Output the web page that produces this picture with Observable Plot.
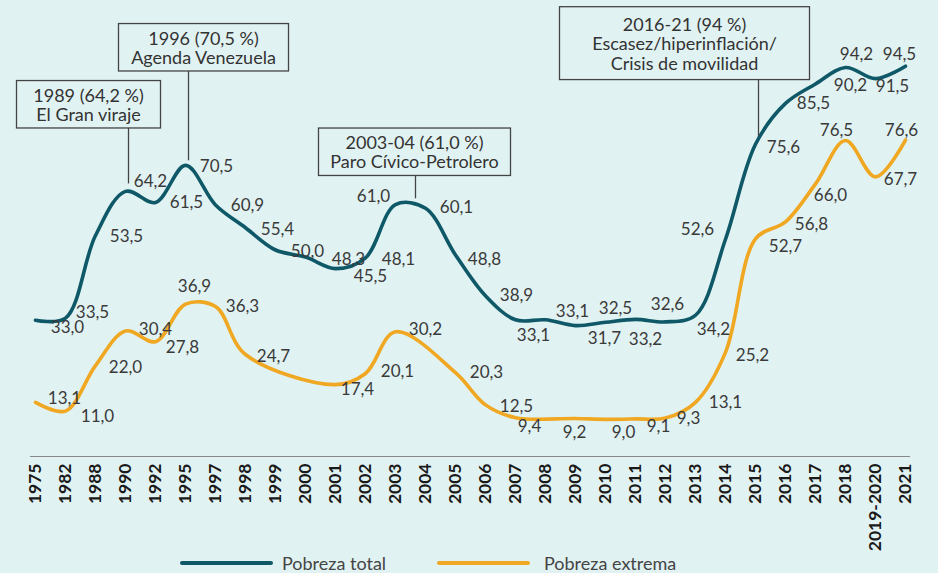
<!DOCTYPE html>
<html><head><meta charset="utf-8">
<script src="https://cdn.jsdelivr.net/npm/d3@7"></script>
<script src="https://cdn.jsdelivr.net/npm/@observablehq/plot@0.6"></script>
<style>
html,body{margin:0;padding:0;background:#e1f2f2;overflow:hidden;}
#chart svg{display:block;overflow:visible;}
#legend{position:relative;height:25px;font-family:Lato,"Open Sans",sans-serif;font-size:18px;color:#444;}
#legend .sw{position:absolute;top:13px;height:4px;width:93px;border-radius:2px;}
#legend .lb{position:absolute;top:3px;line-height:24px;}
</style></head>
<body>
<div id="chart"></div>
<div id="legend"></div>
<script>
// ---- data ----
const categories = ["1975","1982","1988","1990","1992","1995","1997","1998","1999","2000","2001","2002","2003","2004","2005","2006","2007","2008","2009","2010","2011","2012","2013","2014","2015","2016","2017","2018","2019-2020","2021"];
const pobrezaTotal = [33.0,33.5,53.5,64.2,61.5,70.5,60.9,55.4,50.0,48.3,45.5,48.1,61.0,60.1,48.8,38.9,33.1,33.1,31.7,32.5,33.2,32.6,34.2,52.6,75.6,85.5,90.2,94.2,91.5,94.5];
const pobrezaExtrema = [13.1,11.0,22.0,30.4,27.8,36.9,36.3,24.7,null,null,17.4,20.1,30.2,null,20.3,12.5,9.4,null,9.2,9.0,9.1,9.3,13.1,25.2,52.7,56.8,66.0,76.5,67.7,76.6];
const seriesNames = ["Pobreza total","Pobreza extrema"];

const annotationYears = ["1990","1995","2003","2015"];
const annotationTexts = ["1989 (64,2 %)\nEl Gran viraje","1996 (70,5 %)\nAgenda Venezuela","2003-04 (61,0 %)\nParo Cívico-Petrolero","2016-21 (94 %)\nEscasez/hiperinflación/\nCrisis de movilidad"];

// ---- label placement (style) ----
const totalDx = [32,27,31,25,31,31,32,32,32,43,35,33,-22,31,29,31,18,27,29,10,10,2,18,-28,28,28,35,11,17,-6];
const totalDy = [7,-6,1,-10,0,1,1,2,2,3,8,2,-8,-1,5,0,16,-8,13,-14,20,-17,14,-10,3,0,2,-13,8,-12];
const extDx = [29,32,30,30,27,9,27,28,0,0,22,32,30,0,31,31,14,0,-1,18,23,23,30,27,30,26,15,-9,25,-4];
const extDy = [-4,5,2,-1,6,-18,0,2,0,0,5,-2,-2,0,0,2,9,0,14,13,8,0,0,3,8,3,12,-10,3,-10];
const annBoxY = [85.1,98.9,73.6,99.9];   // box centre (value units)
const annLeadEnd = [66.0,71.6,62.4,77.4];
const annTextDx = [-37,18,19,-71];
const annLeadDx = [3,3,20,3];
const annBoxW = [144,170,192,250];

const TEAL = "#0e5868", ORANGE = "#f0a823", BG = "#e1f2f2";
const fmt = v => v.toFixed(1).replace(".", ",");

const totalData = categories.map((c,i)=>({year:c, value:pobrezaTotal[i], dx:totalDx[i], dy:totalDy[i]}));
const extData = categories.map((c,i)=>({year:c, value:pobrezaExtrema[i], dx:extDx[i], dy:extDy[i]})).filter(d=>d.value!=null);

const labelMarks = [...totalData, ...extData].map(d =>
  Plot.text([d], {x:"year", y:"value", text: d=>fmt(d.value), dx:d.dx, dy:d.dy, fontSize:17, fill:"#3a3a3a"}));

const annMarks = annotationYears.flatMap((yr,i)=>[
  Plot.ruleX([{year:yr}], {x:"year", y1:annBoxY[i], y2:annLeadEnd[i], dx:annLeadDx[i], stroke:"#444", strokeWidth:1.3}),
  Plot.text([{year:yr, t:annotationTexts[i]}], {x:"year", y:()=>annBoxY[i], text:"t", dx:annTextDx[i], fontSize:18, lineHeight:1.08, fill:"#333"})
]);

const plot = Plot.plot({
  width: 938, height: 548,
  marginLeft: 30, marginRight: 28, marginTop: 43, marginBottom: 92,
  style: {background: BG, fontFamily: "Lato, 'Open Sans', sans-serif", fontSize: "17px", overflow: "visible"},
  x: {type:"point", domain: categories, padding: 0, tickRotate: -90, tickSize: 0, tickPadding: 7, label: null},
  y: {domain: [0,100], axis: null},
  marks: [
    Plot.ruleY([0], {stroke:"#888", strokeWidth:1}),
    Plot.line(totalData, {x:"year", y:"value", stroke: TEAL, strokeWidth: 3.6, curve: "catmull-rom"}),
    Plot.line(extData, {x:"year", y:"value", stroke: ORANGE, strokeWidth: 3.6, curve: "catmull-rom"}),
    ...annMarks,
    ...labelMarks
  ]
});
document.getElementById("chart").appendChild(plot);

// bold tick labels
d3.select(plot).selectAll('g[aria-label^="x-axis"] text').attr("font-weight","bold").attr("fill","#1a1a1a").style("font-size","17.5px");

// boxes around annotations
const flatTexts = annotationTexts.map(t => t.replace(/\n/g, ""));
plot.querySelectorAll("text").forEach(textEl => {
  const idx = flatTexts.indexOf(textEl.textContent);
  if (idx < 0) return;
  const nLines = annotationTexts[idx].split("\n").length;
  const bb = textEl.getBBox();
  const w = annBoxW[idx];
  const h = bb.height + 6 * (nLines - 1);
  const cx = bb.x + bb.width/2, cy = bb.y + bb.height/2;
  const r = document.createElementNS("http://www.w3.org/2000/svg","rect");
  r.setAttribute("x", cx - w/2); r.setAttribute("y", cy - h/2);
  r.setAttribute("width", w); r.setAttribute("height", h);
  r.setAttribute("fill", BG); r.setAttribute("stroke", "#444"); r.setAttribute("stroke-width", "1.3");
  if (textEl.getAttribute("transform")) r.setAttribute("transform", textEl.getAttribute("transform"));
  textEl.parentNode.insertBefore(r, textEl);
});

// legend
const legend = document.getElementById("legend");
const legendColors = [TEAL, ORANGE];
const legendPos = [[180,282],[437,544]];
seriesNames.forEach((n,i)=>{
  const sw = document.createElement("span"); sw.className="sw"; sw.style.left=legendPos[i][0]+"px"; sw.style.background=legendColors[i];
  const lb = document.createElement("span"); lb.className="lb"; lb.style.left=legendPos[i][1]+"px"; lb.textContent=n;
  legend.appendChild(sw); legend.appendChild(lb);
});
</script>
</body></html>
